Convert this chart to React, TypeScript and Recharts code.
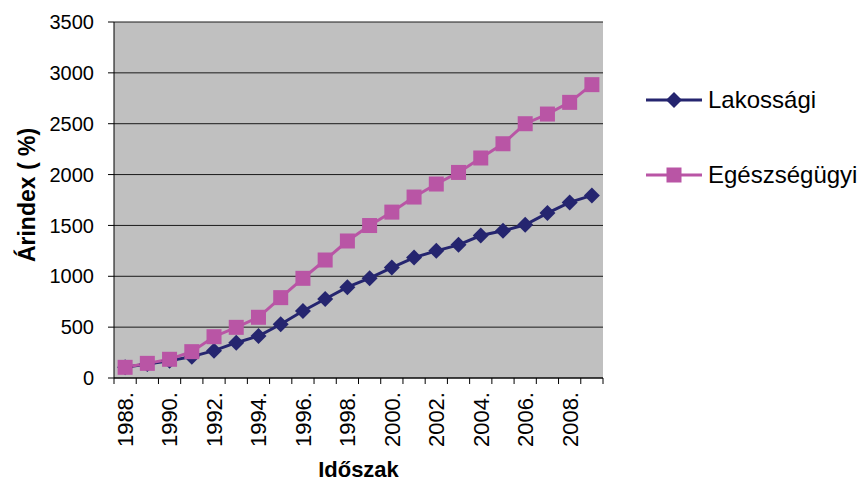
import { LineChart, Line, XAxis, YAxis, CartesianGrid, Legend } from "recharts";

const years = [
  "1988", "1989", "1990", "1991", "1992", "1993", "1994", "1995", "1996", "1997", "1998",
  "1999", "2000", "2001", "2002", "2003", "2004", "2005", "2006", "2007", "2008", "2009",
];
const lakossagi = [
  105, 138, 170, 210, 269, 347, 413, 528, 659, 777, 893,
  981, 1086, 1184, 1250, 1309, 1401, 1447, 1506, 1621, 1726, 1795,
];
const egeszsegugyi = [
  105, 144, 184, 259, 406, 498, 597, 790, 980, 1160, 1347,
  1499, 1631, 1779, 1907, 2021, 2163, 2303, 2500, 2595, 2710, 2884,
];
const yTicks = [0, 500, 1000, 1500, 2000, 2500, 3000, 3500];

const data = years.map((year, i) => ({ year, lak: lakossagi[i], eg: egeszsegugyi[i] }));

const NAVY = "#25256f";
const PINK = "#b955a5";
const FONT = "'Liberation Sans', Arial, sans-serif";

const W = 860;
const H = 481;
const LEFT = 114;
const RIGHT = 257;
const TOP = 22;
const X_AXIS_H = 103;
const PLOT_W = W - LEFT - RIGHT;
const BAND = PLOT_W / years.length;

const Diamond = (props: any) => {
  const { cx, cy, index } = props;
  if (cx == null || cy == null) return null;
  const r = 8;
  return (
    <polygon
      key={`d-${index}`}
      points={`${cx},${cy - r} ${cx + r},${cy} ${cx},${cy + r} ${cx - r},${cy}`}
      fill={NAVY}
    />
  );
};

const Square = (props: any) => {
  const { cx, cy, index } = props;
  if (cx == null || cy == null) return null;
  const s = 15;
  return <rect key={`s-${index}`} x={cx - s / 2} y={cy - s / 2} width={s} height={s} fill={PINK} />;
};

// category ticks sit between the bands, labels on every second year
const YearTick = (props: any) => {
  const { x, y, index, payload } = props;
  const last = index === years.length - 1;
  return (
    <g>
      <line x1={x - BAND / 2} x2={x - BAND / 2} y1={y} y2={y + 6} stroke="#000" />
      {last && <line x1={x + BAND / 2} x2={x + BAND / 2} y1={y} y2={y + 6} stroke="#000" />}
      {index % 2 === 0 && (
        <text
          x={x}
          y={y + 14}
          transform={`rotate(-90 ${x} ${y + 14})`}
          textAnchor="end"
          dy="0.36em"
          fontSize={22}
          fontFamily={FONT}
          fill="#000"
        >
          {payload.value}.
        </text>
      )}
    </g>
  );
};

const LegendBox = () => {
  const items = [
    { name: "Lakossági", color: NAVY, shape: "diamond" },
    { name: "Egészségügyi", color: PINK, shape: "square" },
  ];
  return (
    <div style={{ fontFamily: FONT, fontSize: 24 }}>
      {items.map((it, i) => (
        <div key={it.name} style={{ display: "flex", alignItems: "center", height: 30, marginTop: i ? 45 : 0 }}>
          <svg width={58} height={20} style={{ marginRight: 4 }}>
            <line x1={0} x2={56} y1={10} y2={10} stroke={it.color} strokeWidth={3} />
            {it.shape === "diamond" ? (
              <polygon points="28,2 36,10 28,18 20,10" fill={it.color} />
            ) : (
              <rect x={20.5} y={2.5} width={15} height={15} fill={it.color} />
            )}
          </svg>
          <span style={{ color: "#000" }}>{it.name}</span>
        </div>
      ))}
    </div>
  );
};

export default function App() {
  return (
    <div style={{ position: "absolute", left: 0, top: 0, width: W, height: H, background: "#fff" }}>
      <LineChart width={W} height={H} data={data} margin={{ top: TOP, right: RIGHT, bottom: 0, left: 0 }}>
        <CartesianGrid vertical={false} fill="#c0c0c0" stroke="#1a1a1a" fillOpacity={1} />
        <XAxis
          dataKey="year"
          height={X_AXIS_H}
          interval={0}
          tickLine={false}
          tickSize={0}
          tickMargin={0}
          padding={{ left: BAND / 2, right: BAND / 2 }}
          axisLine={{ stroke: "#000" }}
          tick={<YearTick />}
          label={{ value: "Időszak", position: "insideBottom", offset: 4, fontSize: 22, fontWeight: "bold", fontFamily: FONT, fill: "#000" }}
        />
        <XAxis xAxisId="top" orientation="top" dataKey="year" height={0} tick={false} tickLine={false} axisLine={{ stroke: "#8a8a8a", strokeWidth: 2 }} />
        <YAxis
          width={LEFT}
          domain={[0, 3500]}
          ticks={yTicks}
          interval={0}
          tickSize={6}
          tickMargin={14}
          axisLine={{ stroke: "#000" }}
          tickLine={{ stroke: "#000" }}
          tick={{ fontSize: 20, fontFamily: FONT, fill: "#000" }}
          label={{ value: "Árindex ( %)", angle: -90, position: "insideLeft", offset: 27, dy: -5, fontSize: 23, fontWeight: "bold", fontFamily: FONT, fill: "#000", style: { textAnchor: "middle" } }}
        />
        <YAxis yAxisId="right" orientation="right" width={0} domain={[0, 3500]} tick={false} tickLine={false} axisLine={{ stroke: "#8a8a8a", strokeWidth: 2 }} />
        <Legend
          layout="vertical"
          align="center"
          verticalAlign="middle"
          content={<LegendBox />}
          wrapperStyle={{ left: 646, top: 85, width: 214, height: 110 }}
        />
        <Line dataKey="lak" name="Lakossági" stroke={NAVY} strokeWidth={3} dot={<Diamond />} activeDot={false} isAnimationActive={false} />
        <Line dataKey="eg" name="Egészségügyi" stroke={PINK} strokeWidth={3} dot={<Square />} activeDot={false} isAnimationActive={false} />
      </LineChart>
    </div>
  );
}
